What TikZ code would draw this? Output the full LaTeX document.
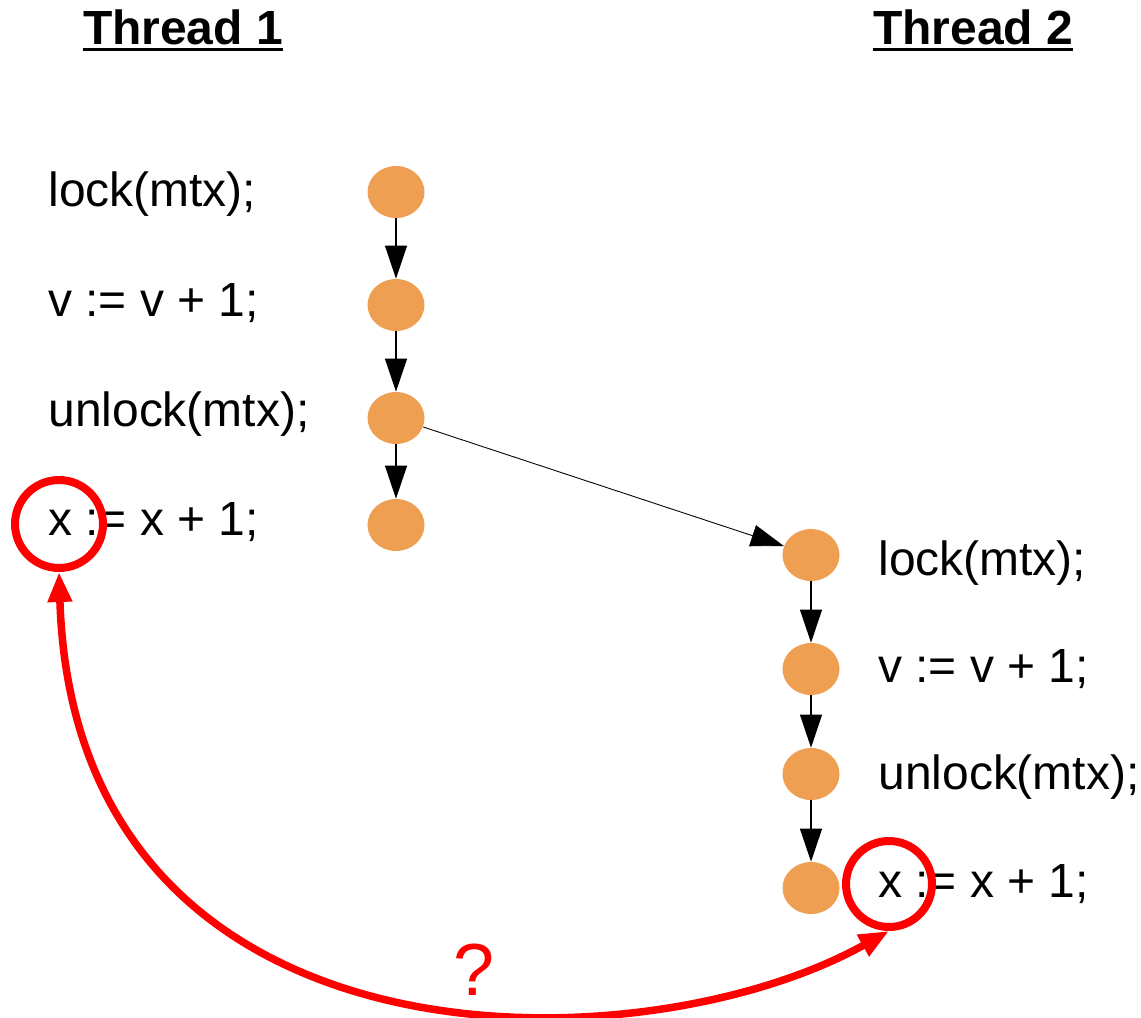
\documentclass[tikz,border=0pt]{standalone}
\usepackage{fontspec}
\setmainfont{Liberation Sans}
\usetikzlibrary{positioning,shapes,arrows.meta}
\definecolor{evorange}{RGB}{239,159,81}

\begin{document}
\begin{tikzpicture}[x=0.02cm, y=-0.02cm,
    ev/.style = {ellipse, fill=evorange, minimum width=1.14cm, minimum height=1.04cm, inner sep=0},
    code/.style = {anchor=base west, inner sep=0, font=\fontsize{27.3}{33}\selectfont},
    head/.style = {anchor=base, inner sep=0, font=\fontsize{27.3}{33}\selectfont\bfseries},
    po/.style = {-{Triangle[width=0.44cm,length=0.66cm]}, line width=0.6pt},
    hl/.style = {circle, draw=red, line width=0.16cm, inner sep=0},
    race/.style = {{Triangle[width=0.46cm,length=0.6cm]}-{Triangle[width=0.46cm,length=0.6cm]}, draw=red, line width=0.15cm}]
    \useasboundingbox (0,0) rectangle (1141,1017);

    % headers
    \node[head] (h1) at (183,45) {Thread 1};
    \node[head] (h2) at (973,45) {Thread 2};
    \draw[line width=0.06cm] ([yshift=-0.09cm]h1.base west) -- ([yshift=-0.09cm]h1.base east);
    \draw[line width=0.06cm] ([yshift=-0.09cm]h2.base west) -- ([yshift=-0.09cm]h2.base east);

    % thread 1
    \node[ev] (a1) at (396,192) {};
    \node[ev] (a2) at (396,305) {};
    \node[ev] (a3) at (396,418) {};
    \node[ev] (a4) at (396,525) {};
    \node[code] (s1) at (48,206) {lock(mtx);};
    \node[code] (s2) at (48,316) {v := v + 1;};
    \node[code] (s3) at (48,426) {unlock(mtx);};
    \node[code] (s4) at (48,535) {x := x + 1;};

    % thread 2
    \node[ev] (b1) at (811,555) {};
    \node[ev] (b2) at (811,669) {};
    \node[ev] (b3) at (811,774) {};
    \node[ev] (b4) at (811,888) {};
    \node[code] (t1) at (878,575) {lock(mtx);};
    \node[code] (t2) at (878,682) {v := v + 1;};
    \node[code] (t3) at (878,789) {unlock(mtx);};
    \node[code] (t4) at (878,897) {x := x + 1;};

    \draw[po] (a1) -- (a2);
    \draw[po] (a2) -- (a3);
    \draw[po] (a3) -- (a4);
    \draw[po] (b1) -- (b2);
    \draw[po] (b2) -- (b3);
    \draw[po] (b3) -- (b4);
    \draw[po, line width=0.5pt] (a3) -- (b1);

    % the race
    \node[hl, minimum size=1.76cm] (c1) at (59,524) {};
    \node[hl, minimum size=1.72cm] (c2) at (889,884) {};
    \draw[race] (c1.south) .. controls (75,1080) and (640,1070) .. (c2.south);
    \node[inner sep=0, text=red, font=\fontsize{42}{48}\selectfont] (q) at (474,970) {?};
\end{tikzpicture}
\end{document}
